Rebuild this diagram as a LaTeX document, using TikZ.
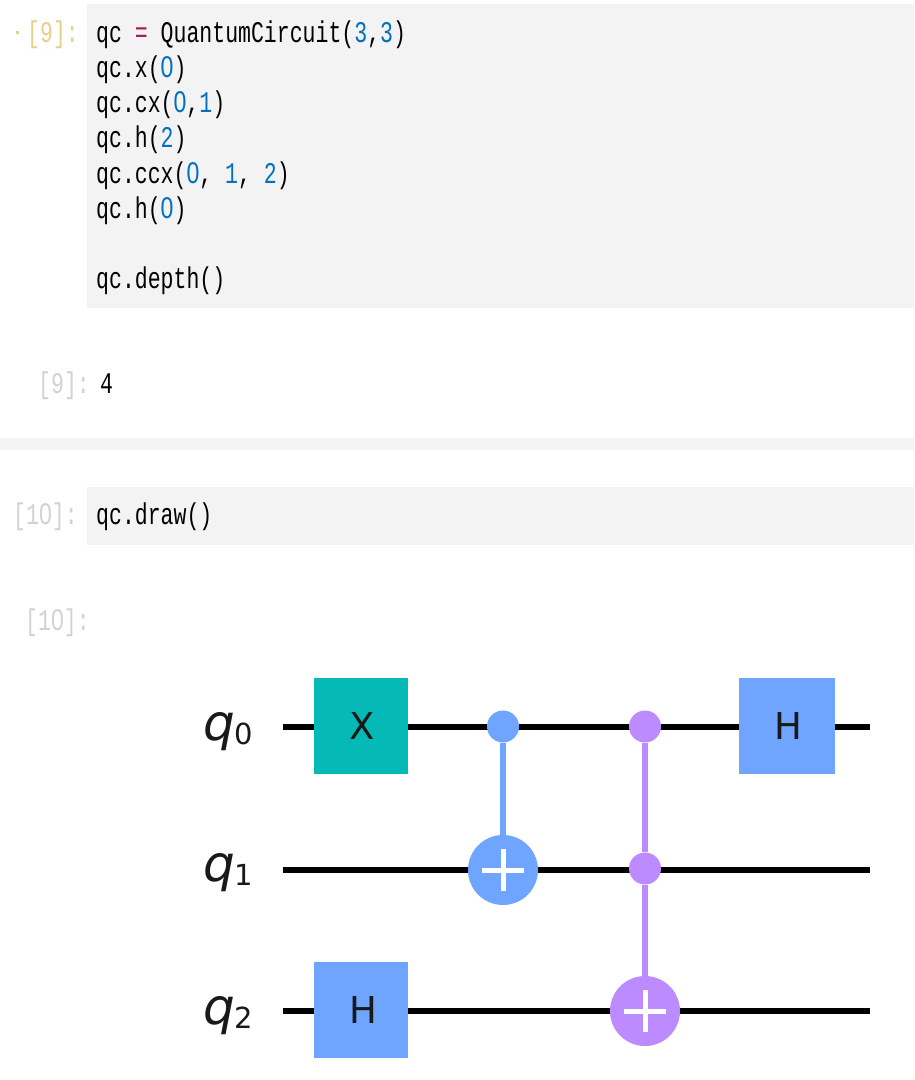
\documentclass[tikz,border=0pt]{standalone}
\usepackage{fontspec}
\setmainfont{DejaVu Sans}
\newfontfamily\codefont[FakeStretch=0.717]{Liberation Mono}
\newfontfamily\zerofont[FakeStretch=0.77]{Liberation Sans}
\definecolor{cellbg}{HTML}{F3F3F3}
\definecolor{numblue}{HTML}{0070C0}
\definecolor{opred}{HTML}{A01A5C}
\definecolor{promptgray}{HTML}{D2D2D2}
\definecolor{promptyellow}{HTML}{E6D08C}
\definecolor{gateteal}{HTML}{05BAB6}
\definecolor{gateblue}{HTML}{6FA4FF}
\definecolor{gatepurple}{HTML}{BB8BFF}
\newcommand{\nb}[1]{\textcolor{numblue}{#1}}
\newcommand{\zr}{{\zerofont 0}}
\newcommand{\subdigit}[1]{\kern-1pt\raisebox{-4pt}{\fontsize{29}{29}\selectfont #1}}
\tikzset{
  x=1pt,y=-1pt,
  code/.style={anchor=base west,inner sep=0pt,text=black,font=\codefont\fontsize{30}{30}\selectfont},
  promptg/.style={code,text=promptgray},
  prompty/.style={code,text=promptyellow},
  cell/.style={fill=cellbg,draw=none},
  wire/.style={draw=black,line width=5.5pt},
  gatebox/.style={draw=none,minimum height=96pt,inner sep=0pt,font=\fontsize{37}{37}\selectfont,text=black!90},
  qlabel/.style={anchor=base west,inner sep=0pt,font=\fontsize{50}{50}\selectfont,text=black!90},
  ctrl/.style={circle,minimum size=32pt,inner sep=0pt,draw=none},
  targ/.style={circle,minimum size=70pt,inner sep=0pt,draw=none},
  plusmark/.style={draw=white,line width=5pt}
}
\begin{document}
\begin{tikzpicture}
\useasboundingbox[fill=white] (0,0) rectangle (914,1080);
% cell backgrounds
\fill[cell] (87,4) rectangle (914,308);
\fill[cell] (0,438) rectangle (914,450);
\fill[cell] (87,487) rectangle (914,545);
\fill[promptyellow] (16,30.5) rectangle (19,33.5);
% prompts
\node[prompty] (p1) at (27,42) {[9]:};
\node[promptg] (p2) at (38,393) {[9]:};
\node[promptg] (p3) at (13,524) {[1\zr]:};
\node[promptg] (p4) at (25,630) {[1\zr]:};
% code
\node[code] (l1) at (96,42) {qc \textcolor{opred}{=} QuantumCircuit(\nb{3},\nb{3})};
\node[code] (l2) at (96,77) {qc.x(\nb{\zr})};
\node[code] (l3) at (96,112) {qc.cx(\nb{\zr},\nb{1})};
\node[code] (l4) at (96,147.5) {qc.h(\nb{2})};
\node[code] (l5) at (96,183) {qc.ccx(\nb{\zr}, \nb{1}, \nb{2})};
\node[code] (l6) at (96,218) {qc.h(\nb{\zr})};
\node[code] (l7) at (96,288) {qc.depth()};
\node[code] (o1) at (100,393) {4};
\node[code] (l8) at (96,524) {qc.draw()};
% wire ends
\coordinate (w0s) at (283,727);
\coordinate (w0e) at (870,727);
\coordinate (w1s) at (283,870);
\coordinate (w1e) at (870,870);
\coordinate (w2s) at (283,1011);
\coordinate (w2e) at (870,1011);
\draw[wire] (w0s) -- (w0e);
\draw[wire] (w1s) -- (w1e);
\draw[wire] (w2s) -- (w2e);
% labels
\node[qlabel] (q0) at (203.5,740) {\textit{q}\subdigit{0}};
\node[qlabel] (q1) at (203.5,881) {\textit{q}\subdigit{1}};
\node[qlabel] (q2) at (203.5,1024) {\textit{q}\subdigit{2}};
% gates
\node[gatebox,minimum width=94pt,fill=gateteal] (gx) at (361,726) {\kern3pt X};
\node[gatebox,minimum width=96pt,fill=gateblue] (gh0) at (787,726) {\kern2pt H};
\node[gatebox,minimum width=94pt,fill=gateblue] (gh2) at (361,1010) {\kern4pt H};
% cx
\node[ctrl,fill=gateblue] (c0) at (503,726.5) {};
\node[targ,fill=gateblue] (t1) at (503,870) {};
\draw[draw=gateblue,line width=5.5pt] (c0) -- (t1);
\draw[plusmark] ([yshift=-21pt]t1.center) -- ([yshift=21pt]t1.center);
\draw[plusmark] ([xshift=-21pt]t1.center) -- ([xshift=21pt]t1.center);
% ccx
\node[ctrl,fill=gatepurple] (c1) at (645,726.5) {};
\node[ctrl,fill=gatepurple] (c2) at (645,868.5) {};
\node[targ,fill=gatepurple] (t2) at (645,1011) {};
\draw[draw=gatepurple,line width=5.5pt] (c1) -- (c2);
\draw[draw=gatepurple,line width=5.5pt] (c2) -- (t2);
\draw[plusmark] ([yshift=-21pt]t2.center) -- ([yshift=21pt]t2.center);
\draw[plusmark] ([xshift=-21pt]t2.center) -- ([xshift=21pt]t2.center);
\end{tikzpicture}
\end{document}
